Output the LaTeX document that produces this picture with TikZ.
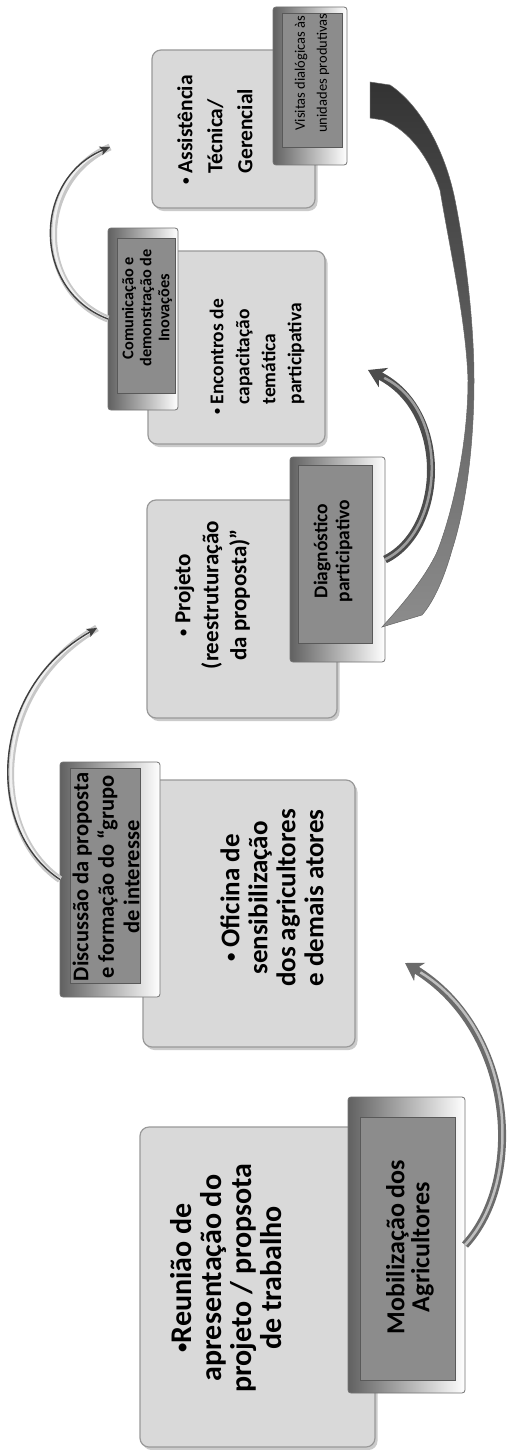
\documentclass[tikz,border=0pt]{standalone}
\usepackage{fontspec}
\setmainfont{Carlito}
\usetikzlibrary{arrows.meta,shadows}
\newcommand\smbul{\raisebox{0.12em}{\scalebox{0.62}{•}}}
\begin{document}
\begin{tikzpicture}[x=1pt,y=-1pt,
  lbox/.style={draw=black!40, fill=black!15, line width=1.2pt, rounded corners=9pt,
    inner sep=0pt, outer sep=0pt,
    drop shadow={shadow xshift=2.5pt, shadow yshift=-3pt, fill=black!40, opacity=0.5}},
  dout/.style={draw=black!55, line width=0.8pt, rounded corners=3pt,
    left color=black!62, right color=white, inner sep=0pt, outer sep=0pt},
  din/.style={draw=black!65, line width=0.6pt, fill=black!45, inner sep=0pt, outer sep=0pt},
  txt/.style={rotate=90, align=center, inner sep=0pt, text=black},
  thickarr/.style={line width=8pt, draw=black!58, -{Stealth[length=17pt,width=21pt,inset=5pt]}},
  thickhl/.style={line width=2.5pt, draw=black!25, shorten >=18pt},
  bandarr/.style={line width=7pt, draw=black!22},
  bandhl/.style={line width=2.5pt, draw=black!6, shorten >=6pt},
  thinarr/.style={line width=1.4pt, draw=black!75, -{Stealth[length=10pt,width=9pt,inset=2pt]}}
]
\useasboundingbox[fill=white] (0,0) rectangle (506,1450);

% ---------- light boxes ----------
\node[lbox, minimum width=235pt, minimum height=320pt] (l1) at (257.5,1287) {};
\node[lbox, minimum width=212pt, minimum height=267pt] (l2) at (249,913.5) {};
\node[lbox, minimum width=190pt, minimum height=218pt] (l3) at (242,609) {};
\node[lbox, minimum width=177pt, minimum height=193pt] (l4) at (236.5,347.5) {};
\node[lbox, minimum width=163pt, minimum height=158pt] (l5) at (233.5,129) {};

\node[txt, font=\fontsize{30pt}{30pt}\selectfont\bfseries] (t1) at (226,1278)
  {\smbul Reunião de\\apresentação do\\projeto / propsota\\de trabalho};
\node[txt, font=\fontsize{27pt}{28pt}\selectfont\bfseries] (t2) at (272,898)
  {\smbul\ Oficina de\\sensibilização\\dos agricultores\\e demais atores};
\node[txt, font=\fontsize{23pt}{28pt}\selectfont\bfseries] (t3) at (212,595)
  {\smbul\ Projeto\\(reestruturação\\da proposta)”};
\node[txt, align=left, font=\fontsize{19.5pt}{26pt}\selectfont\bfseries] (t4) at (257,357)
  {\smbul\ Encontros de\\\hphantom{\smbul\ }capacitação\\\hphantom{\smbul\ }temática\\\hphantom{\smbul\ }participativa};
\node[txt, align=left, font=\fontsize{21.5pt}{30pt}\selectfont\bfseries] (t5) at (215,130)
  {\smbul\ Assistência\\\hphantom{\smbul\ }Técnica/\\\hphantom{\smbul\ }Gerencial};

% ---------- dark boxes ----------
\node[dout, minimum width=117pt, minimum height=296pt] (d1) at (406.5,1245) {};
\node[din, minimum width=95pt, minimum height=263pt] (d1i) at (407.5,1248.5) {};
\node[txt, font=\fontsize{26pt}{25pt}\selectfont\bfseries] (d1t) at (410,1247)
  {Mobilização dos\\Agricultores};

\node[dout, minimum width=100pt, minimum height=235pt] (d2) at (110,879.5) {};
\node[din, minimum width=70pt, minimum height=215pt] (d2i) at (105,875.5) {};
\node[txt, font=\fontsize{22.5pt}{25.5pt}\selectfont\bfseries] (d2t) at (106,877)
  {Discussão da proposta\\e formação do “grupo\\de interesse};

\node[dout, minimum width=95pt, minimum height=205pt] (d3) at (337.5,559.5) {};
\node[din, minimum width=74pt, minimum height=178pt] (d3i) at (335,554) {};
\node[txt, font=\fontsize{19.5pt}{22pt}\selectfont\bfseries] (d3t) at (333,551)
  {Diagnóstico\\participativo};

\node[dout, minimum width=70pt, minimum height=182pt] (d4) at (143,319) {};
\node[din, minimum width=58pt, minimum height=155pt] (d4i) at (146,315.5) {};
\node[txt, font=\fontsize{16.3pt}{18pt}\selectfont\bfseries] (d4t) at (147,308)
  {Comunicação e\\demonstração de\\Inovações};

\node[dout, minimum width=74pt, minimum height=158pt] (d5) at (310,86) {};
\node[din, minimum width=60pt, minimum height=134pt] (d5i) at (312,80) {};
\node[txt, font=\fontsize{14.5pt}{22pt}\selectfont] (d5t) at (312,73)
  {Visitas dialógicas às\\unidades produtivas};

% ---------- connectors ----------
\coordinate (tipA) at (405,963);
\coordinate (tipB) at (97,628);
\coordinate (tipC) at (368,370);
\coordinate (tipD) at (110,147);

% A: Mobilizacao -> Oficina
\draw[thickarr] (d1.east) .. controls (525,1180) and (515,1030) .. (tipA);
\draw[thickhl] (d1.east) .. controls (525,1180) and (515,1030) .. (tipA);

% C: Diagnostico -> Encontros
\draw[thickarr, draw=black!70] (d3.east) .. controls (445,530) and (450,410) .. (tipC);
\draw[thickhl, draw=black!38] (d3.east) .. controls (445,530) and (450,410) .. (tipC);

% B: Discussao -> Projeto
\draw[bandarr] (d2.west) .. controls (-12,830) and (-10,690) .. (tipB);
\draw[bandhl, xshift=1pt] (d2.west) .. controls (-12,830) and (-10,690) .. (tipB);
\draw[thinarr, xshift=-3pt] (d2.west) .. controls (-12,830) and (-10,690) .. (tipB);

% D: Comunicacao -> Assistencia
\draw[bandarr] (d4.west) .. controls (35,290) and (35,180) .. (tipD);
\draw[bandhl, xshift=1pt] (d4.west) .. controls (35,290) and (35,180) .. (tipD);
\draw[thinarr, xshift=-3pt] (d4.west) .. controls (35,290) and (35,180) .. (tipD);

% E: big tapered arrow Visitas -> Diagnostico
\shade[top color=black!80, bottom color=black!45, draw=black!60, line width=0.5pt]
  (370,82) -- (390,85) .. controls (420,105) and (445,150) .. (455,200)
  .. controls (465,250) and (474,320) .. (474,380)
  .. controls (474,450) and (465,510) .. (452,550)
  .. controls (445,575) and (435,600) .. (422,615)
  -- (382,627)
  .. controls (402,605) and (425,578) .. (437,552)
  .. controls (450,520) and (468,450) .. (468,380)
  .. controls (466,320) and (450,250) .. (440,190)
  .. controls (430,160) and (410,130) .. (383,120)
  -- (370,118) -- cycle;
\end{tikzpicture}
\end{document}
